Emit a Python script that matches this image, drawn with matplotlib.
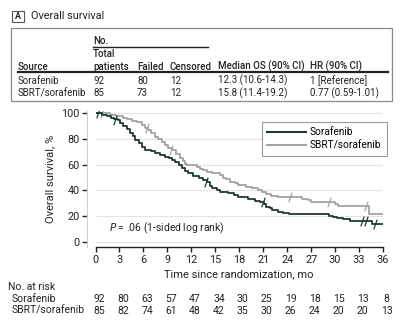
import matplotlib
matplotlib.use("Agg")
import matplotlib.pyplot as plt
from matplotlib.lines import Line2D
from matplotlib.patches import Rectangle
from matplotlib.path import Path

plt.rcParams['font.family'] = ['Roboto', 'DejaVu Sans']

# ---- data ----
groups = ["Sorafenib", "SBRT/sorafenib"]
total_patients = [92, 85]
failed = [80, 73]
censored = [12, 12]
median_os = ["12.3 (10.6-14.3)", "15.8 (11.4-19.2)"]
hazard_ratio = ["1 [Reference]", "0.77 (0.59-1.01)"]

# Kaplan-Meier step points (months, survival %)
sor_t = [0, 0.8, 1.4, 1.9, 2.3, 2.8, 3.1, 3.5, 3.9, 4.3, 4.7, 5.0, 5.4, 5.8, 6.2,
         6.9, 7.4, 8.1, 8.7, 9.2, 9.6, 10.0, 10.4, 10.8, 11.2, 11.6, 12.2, 12.9,
         13.4, 13.9, 14.3, 14.6, 15.2, 15.6, 16.6, 17.3, 17.9, 19.1, 20.0, 20.6,
         21.1, 21.4, 21.8, 22.1, 22.9, 23.5, 24.2, 29.3, 29.8, 30.3, 31.0, 31.9,
         34.6, 36]
sor_s = [100, 98.9, 97.8, 96.7, 95.6, 94.5, 92.3, 90.1, 87.9, 84.6, 82.4, 79.1,
         76.9, 73.6, 71.4, 70.3, 68.8, 67.7, 66.2, 65.0, 63.6, 62.3, 59.8, 57.2,
         55.0, 53.3, 51.0, 49.4, 47.8, 46.2, 43.5, 41.6, 40.0, 38.8, 37.7, 36.3,
         35.0, 33.0, 32.0, 31.1, 29.5, 27.3, 25.9, 24.7, 23.4, 22.3, 21.3, 20.2,
         19.0, 18.2, 17.3, 16.4, 13.5, 13.5]
sor_cens_t = [0.35, 2.5, 13.8, 21.0, 33.4, 33.9, 35.0]
sor_cens_s = [100, 94.5, 46.2, 31.1, 16.4, 16.4, 13.5]

sbrt_t = [0, 1.8, 2.6, 3.4, 4.0, 4.6, 5.2, 5.8, 6.2, 6.6, 7.0, 7.4, 7.8, 8.3, 8.7,
          9.1, 9.6, 10.1, 10.6, 10.9, 11.2, 11.5, 12.7, 13.1, 13.5, 14.0, 14.6,
          15.6, 16.0, 16.4, 16.8, 17.5, 17.9, 18.8, 19.6, 20.3, 20.8, 21.3, 22.0,
          22.8, 25.8, 26.6, 27.0, 30.0, 30.4, 34.2, 36]
sbrt_s = [100, 98.8, 97.6, 96.5, 95.3, 94.1, 92.9, 90.6, 88.2, 87.0, 84.7, 81.2,
          80.0, 77.6, 75.3, 73.0, 71.4, 68.0, 65.5, 63.2, 60.9, 59.5, 58.2, 57.0,
          55.8, 54.5, 53.2, 52.0, 50.0, 48.5, 46.7, 45.5, 44.2, 42.9, 41.6, 40.3,
          38.5, 37.2, 35.8, 35.0, 33.6, 32.5, 31.3, 29.6, 27.9, 21.3, 21.3]
sbrt_cens_t = [0.8, 6.4, 9.5, 24.4, 29.3, 33.9]
sbrt_cens_s = [100, 88.2, 71.4, 35.0, 31.3, 27.9]

risk_times = [0, 3, 6, 9, 12, 15, 18, 21, 24, 27, 30, 33, 36]
sor_risk = [92, 80, 63, 57, 47, 34, 30, 25, 19, 18, 15, 13, 8]
sbrt_risk = [85, 82, 74, 61, 48, 42, 35, 30, 26, 24, 20, 20, 13]

DARK = "#1e3a33"
GRAY = "#a3a3a3"
TXT = "#222222"
W, H = 400, 322


def fx(x):
    return x / W


def fy(y):
    return 1 - y / H


fig = plt.figure(figsize=(W / 100, H / 100), dpi=100)

# ---- header ----
fig.add_artist(Rectangle((fx(11.5), fy(21.5)), 12 / W, 10.5 / H, transform=fig.transFigure,
                         fill=False, edgecolor="#555555", lw=0.8))
fig.text(fx(17.5), fy(16.3), "A", ha="center", va="center", fontsize=6.5, color=TXT,
         fontweight="bold")
fig.text(fx(31), fy(16), "Overall survival", ha="left", va="center", fontsize=7.8, color=TXT)

# ---- summary table ----
fig.add_artist(Rectangle((fx(11), fy(101)), (392 - 11) / W, (101 - 28.5) / H,
                         transform=fig.transFigure, fill=False, edgecolor="#8a8a8a", lw=0.9))
cols = [18, 93, 137, 170, 218, 310]
fs = 7.0
fig.text(fx(93), fy(41.5), "No.", ha="left", va="center", fontsize=fs, color=TXT,
         fontweight="medium")
fig.add_artist(Line2D([fx(93), fx(208)], [fy(46.5), fy(46.5)], transform=fig.transFigure,
                      color=TXT, lw=1.0))
fig.text(fx(93), fy(54), "Total", ha="left", va="center", fontsize=fs, color=TXT,
         fontweight="medium")
heads = ["Source", "patients", "Failed", "Censored", "Median OS (90% CI)", "HR (90% CI)"]
for x, h in zip(cols, heads):
    fig.text(fx(x), fy(66.5), h, ha="left", va="center", fontsize=fs, color=TXT,
             fontweight="medium")
fig.add_artist(Line2D([fx(18), fx(388)], [fy(72), fy(72)], transform=fig.transFigure,
                      color=TXT, lw=1.6))
for i, ypix in enumerate([80.5, 93.5]):
    row = [groups[i], str(total_patients[i]), str(failed[i]), str(censored[i]),
           median_os[i], hazard_ratio[i]]
    for x, v in zip(cols, row):
        fig.text(fx(x), fy(ypix), v, ha="left", va="center", fontsize=fs, color=TXT)

# ---- survival plot ----
ymin, ymax = -4.2, 102.0
x0, x36 = 95.5, 383.0
y100, y0 = 113.3, 241.7
ppu = (y0 - y100) / 100
top_px = y100 - (ymax - 100) * ppu
bot_px = y0 - ymin * ppu
ax = fig.add_axes([fx(x0), fy(bot_px), (x36 - x0) / W, (bot_px - top_px) / H])
ax.set_xlim(0, 36)
ax.set_ylim(ymin, ymax)

for y in [0, 20, 40, 60, 80, 100]:
    ax.axhline(y, color="#e4e4e4", lw=0.9, zorder=0)

ax.step(sbrt_t, sbrt_s, where="post", color=GRAY, lw=1.3, label=groups[1], zorder=2)
ax.step(sor_t, sor_s, where="post", color=DARK, lw=1.3, label=groups[0], zorder=3)

slash = Path([(-0.35, -1.0), (0.35, 1.0)], [Path.MOVETO, Path.LINETO])
ax.plot(sbrt_cens_t, sbrt_cens_s, ls="none", marker=slash, ms=7, mew=0.9, color=GRAY, zorder=2)
ax.plot(sor_cens_t, sor_cens_s, ls="none", marker=slash, ms=7, mew=0.9, color=DARK, zorder=3)

ax.set_yticks([0, 20, 40, 60, 80, 100])
ax.set_xticks(risk_times)
ax.tick_params(axis="both", labelsize=7.8, colors=TXT, length=3.5, width=1.0, pad=2)
for s in ["top", "right"]:
    ax.spines[s].set_visible(False)
ax.spines["left"].set_position(("outward", 6))
ax.spines["left"].set_color("#cfcfcf")
ax.spines["left"].set_linewidth(0.8)
ax.spines["bottom"].set_color(TXT)
ax.spines["bottom"].set_linewidth(1.0)
ax.set_ylabel("Overall survival, %", fontsize=8.0, color=TXT, labelpad=4)
ax.set_xlabel("Time since randomization, mo", fontsize=8.0, color=TXT, labelpad=3)

ax.text(1.7, 10.5, "$P$ = .06 (1-sided log rank)", fontsize=7.5, color=TXT, va="center")

handles = [Line2D([], [], color=DARK, lw=1.5), Line2D([], [], color=GRAY, lw=1.5)]
leg = ax.legend(handles, groups, loc="upper left",
                bbox_to_anchor=(fx(261.7), fy(121.7)), bbox_transform=fig.transFigure,
                borderaxespad=0, fontsize=7.3, frameon=True, fancybox=False,
                handlelength=3.8, handletextpad=0.4, labelspacing=0.35,
                borderpad=0.55, framealpha=1)
leg.get_frame().set_edgecolor("#9a9a9a")
leg.get_frame().set_linewidth(0.8)

# ---- number at risk ----
fs_r = 7.5
fig.text(fx(8), fy(287), "No. at risk", ha="left", va="center", fontsize=fs_r, color=TXT)
for ypix, name, counts in [(299, groups[0], sor_risk), (311, groups[1], sbrt_risk)]:
    fig.text(fx(12), fy(ypix), name, ha="left", va="center", fontsize=fs_r, color=TXT)
    for t, n in zip(risk_times, counts):
        xp = x0 + (t + 0.45) * (x36 - x0) / 36
        fig.text(fx(xp), fy(ypix), str(n), ha="center", va="center", fontsize=fs_r, color=TXT)

fig.savefig("out.png", dpi=100)
